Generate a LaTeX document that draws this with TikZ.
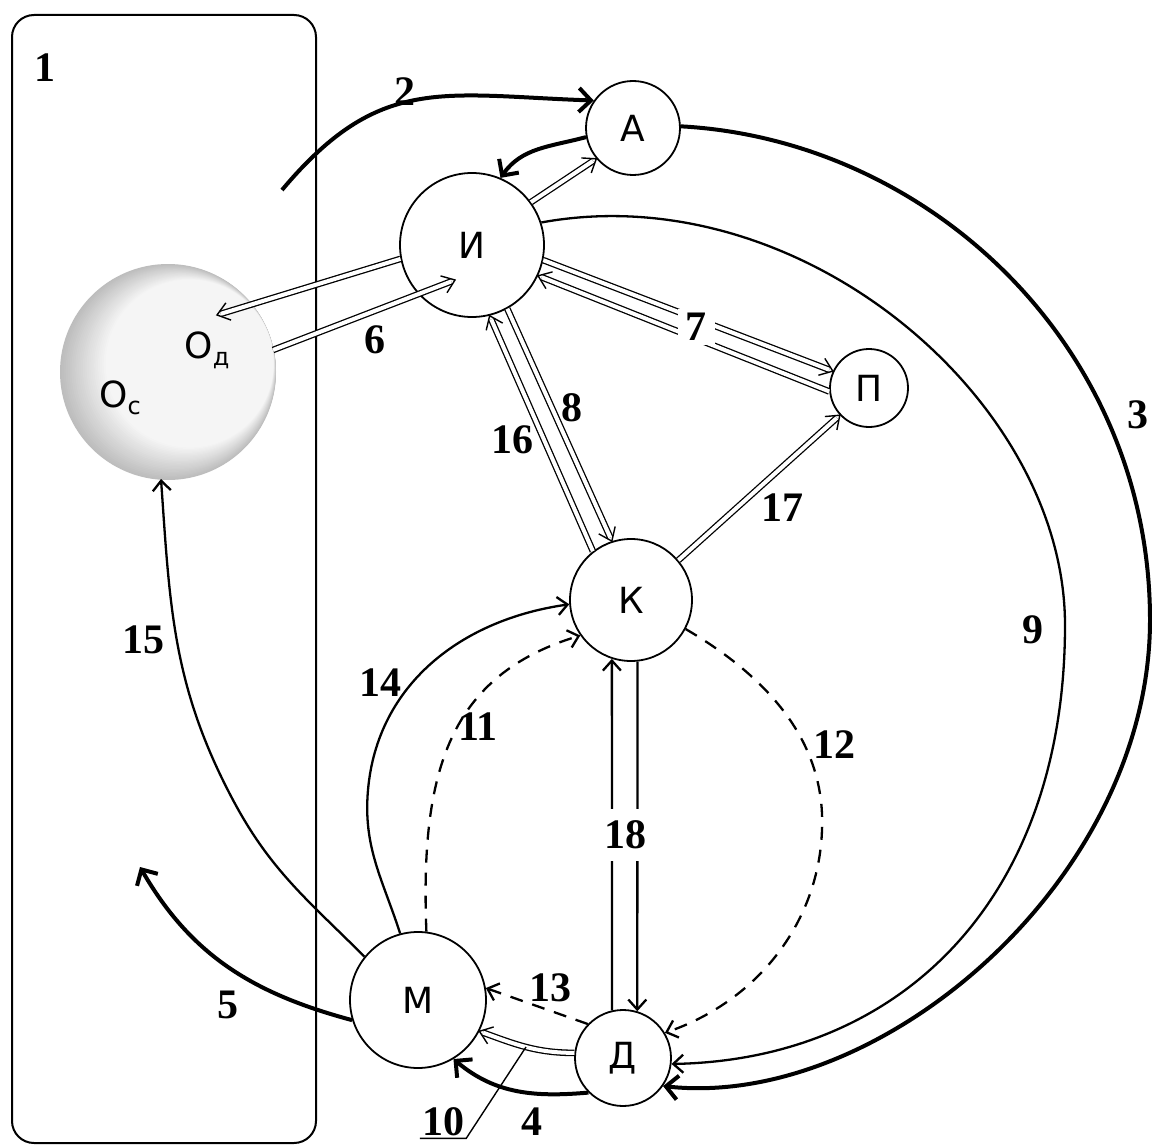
\documentclass[tikz,border=0pt]{standalone}
\usepackage{fontspec}
\newfontfamily\letfont{DejaVu Sans}
\newfontfamily\numfont{Liberation Serif}
\usetikzlibrary{arrows.meta,calc,decorations.markings}
\begin{document}
\begin{tikzpicture}[x=1pt,y=1pt,
  circ/.style={draw, circle, line width=1.8pt, inner sep=0pt, font=\letfont\fontsize{36}{40}\selectfont},
  lbl/.style={font=\letfont\fontsize{36}{40}\selectfont, inner sep=1pt},
  num/.style={font=\numfont\bfseries\fontsize{42}{44}\selectfont, inner sep=2pt},
  thk/.style={line width=4pt, -{Straight Barb[length=12pt,width=24pt]}},
  thn/.style={line width=2.3pt, -{Straight Barb[length=10pt,width=18pt]}},
  dsh/.style={thn, dash pattern=on 13pt off 10pt},
  dbl/.style={line width=1.3pt, double distance=4pt, shorten >=4pt,
    postaction={decorate, decoration={markings, mark=at position 1 with {
      \draw[line width=1.4pt, solid, shorten >=0pt, shorten <=0pt, line join=miter] (-12pt,9pt) -- (0pt,0pt) -- (-12pt,-9pt);}}}},
]
\useasboundingbox (0,0) rectangle (1152,-1145);
\fill[white] (0,0) rectangle (1152,-1145);

% shaded sphere O_c
\foreach \i in {0,...,24}{
  \pgfmathsetmacro{\shadeval}{26-0.92*\i}
  \fill[black!\shadeval] ({168+0.9*\i},{-372+0.35*\i}) circle ({108-1.0*\i});
}

% frame 1
\draw[line width=2pt, rounded corners=22pt] (12,-15) rectangle (316,-1143);

% nodes
\node[circ, minimum size=94pt]  (A) at (633,-128)  {А};
\node[circ, minimum size=144pt] (I) at (472,-245)  {И};
\node[circ, minimum size=78pt]  (P) at (869,-388)  {П};
\node[circ, minimum size=122pt] (K) at (631,-600)  {К};
\node[circ, minimum size=136pt] (M) at (418,-1000) {М};
\node[circ, minimum size=96pt]  (D) at (623,-1058) {Д};
\node[lbl] (Od) at (207,-350) {О\raisebox{-7pt}{\fontsize{24}{26}\selectfont д}};
\node[lbl] (Oc) at (120,-398) {О\raisebox{-7pt}{\fontsize{24}{26}\selectfont с}};

% free ends
\coordinate (c2) at (282,-190);
\coordinate (od1) at (217,-315);
\coordinate (od2) at (273,-350);
\coordinate (i6) at (455,-280);
\coordinate (oc) at (161,-479);
\coordinate (c5) at (140,-867);

% connectors
\draw[thk] (c2) to[out=50,in=178,looseness=1.2] (A.145);
\draw[thk] (A.191) to[out=195,in=55] (I.67);
\draw[dbl] (I.36) -- (A.220);
\draw[thk] (A.2) .. controls (930,-140) and (1150,-347) .. (1150,-620)
                 .. controls (1150,-880) and (880,-1110) .. (D.-35);
\draw[thn] (I.18) .. controls (800,-175) and (1065,-400) .. (1065,-625)
                  .. controls (1065,-900) and (900,-1060) .. (D.-7);
\draw[dbl] (I.191) -- (od1);
\draw[dbl] (od2) -- (i6);
\draw[dbl] (I.-12) -- (P.155);
\draw[dbl] (P.185) -- (I.-25);
\draw[dbl] (I.-61) -- (K.108);
\draw[dbl] (K.128) -- (I.-76);
\draw[dbl] (K.40) -- (P.223);
\draw[thn] (D.103) -- (K.252);
\draw[thn] (K.-84) -- (D.73);
\draw[dsh] (M.83) .. controls (420,-770) and (450,-675) .. (K.215);
\draw[dsh] (K.-28) .. controls (790,-690) and (825,-760) .. (822,-830) .. controls (819,-920) and (760,-1000) .. (D.31);
\draw[dsh] (D.136) -- (M.10);
\draw[dbl] (D.174) to[out=180,in=-20] coordinate[pos=0.5] (c10) (M.-27);
\draw[thk] (D.225) to[out=185,in=-40] (M.-59);
\draw[thk] (M.197) to[out=165,in=-60] (c5);
\draw[thn] (M.105) to[out=108,in=-95] (368,-790) to[out=85,in=188] (K.184);
\draw[thn] (M.141) to[out=135,in=-62] (233,-800) to[out=118,in=-86] (oc);

% labels
\node[num] (n1) at (45,-68) {1};
\node[num] (n2) at (405,-92) {2};
\node[num] (n3) at (1138,-415) {3};
\node[num] (n4) at (532,-1122) {4};
\node[num] (n5) at (228,-1005) {5};
\node[num] (n6) at (375,-340) {6};
\node[num, fill=white, inner xsep=8pt, inner ysep=4pt] (n7) at (696,-327) {7};
\node[num] (n8) at (572,-408) {8};
\node[num] (n9) at (1033,-630) {9};
\node[num] (n10) at (443,-1122) {10};
\node[num] (n11) at (478,-727) {11};
\node[num] (n12) at (834,-745) {12};
\node[num] (n13) at (550,-988) {13};
\node[num] (n14) at (380,-683) {14};
\node[num] (n15) at (143,-640) {15};
\node[num] (n16) at (512,-440) {16};
\node[num] (n17) at (782,-508) {17};
\node[num, fill=white, inner xsep=1pt, inner ysep=12pt] (n18) at (625,-835) {18};
\draw[line width=1.4pt] (c10) -- (n10.south east) -- (n10.south west);
\end{tikzpicture}
\end{document}
